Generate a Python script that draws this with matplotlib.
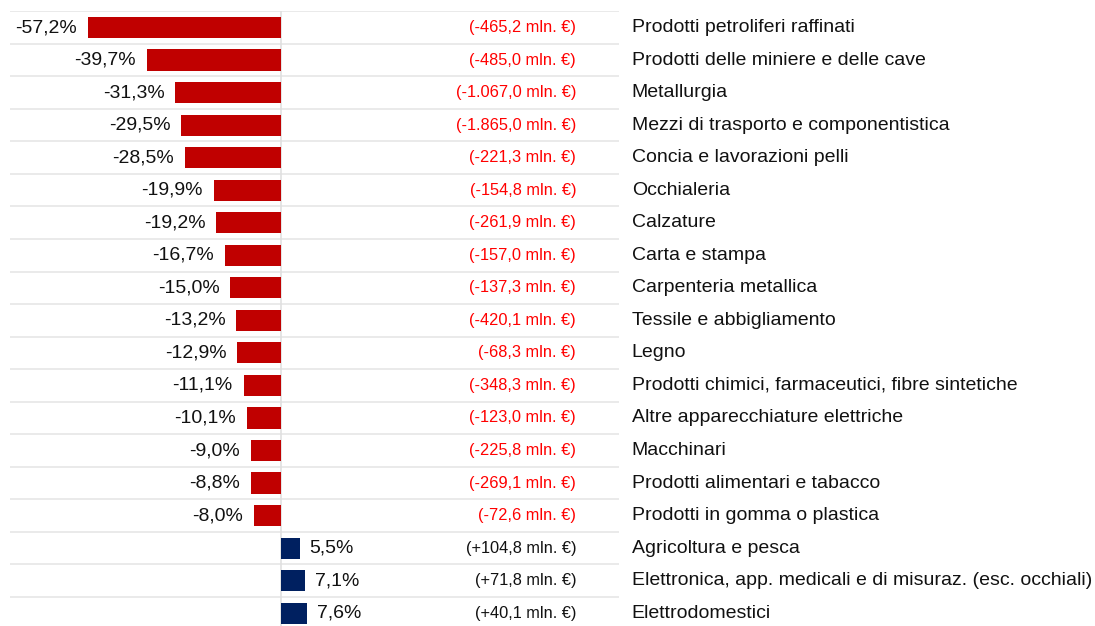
import matplotlib
matplotlib.use('Agg')
import matplotlib.pyplot as plt

# dati: variazione % export e variazione in mln di euro per settore
settori = ['Prodotti petroliferi raffinati', 'Prodotti delle miniere e delle cave',
           'Metallurgia', 'Mezzi di trasporto e componentistica',
           'Concia e lavorazioni pelli', 'Occhialeria', 'Calzature',
           'Carta e stampa', 'Carpenteria metallica', 'Tessile e abbigliamento',
           'Legno', 'Prodotti chimici, farmaceutici, fibre sintetiche',
           'Altre apparecchiature elettriche', 'Macchinari',
           'Prodotti alimentari e tabacco', 'Prodotti in gomma o plastica',
           'Agricoltura e pesca',
           'Elettronica, app. medicali e di misuraz. (esc. occhiali)',
           'Elettrodomestici']
variazioni = [-57.2, -39.7, -31.3, -29.5, -28.5, -19.9, -19.2, -16.7, -15.0,
              -13.2, -12.9, -11.1, -10.1, -9.0, -8.8, -8.0, 5.5, 7.1, 7.6]
mln_euro = ['-465,2', '-485,0', '-1.067,0', '-1.865,0', '-221,3', '-154,8',
            '-261,9', '-157,0', '-137,3', '-420,1', '-68,3', '-348,3', '-123,0',
            '-225,8', '-269,1', '-72,6', '+104,8', '+71,8', '+40,1']

plt.rcParams['font.family'] = ['Liberation Sans', 'DejaVu Sans']

W, H = 1095, 626
fig = plt.figure(figsize=(W / 100, H / 100), dpi=100)
# assi da x=10 a x=619 px, righe da y=11 a y=630 px
ax = fig.add_axes([10 / W, (H - 629.5) / H, 609 / W, 618.25 / H])
ax.set_xlim(-80.2, 100)
ax.set_ylim(len(settori) - 0.5, -0.5)
ax.axis('off')

# righe orizzontali e asse dello zero
for k in range(len(settori) + 1):
    ax.axhline(k - 0.5, color='#E6E6E6', lw=1.2, zorder=0)
ax.axvline(0, color='#E0E0E0', lw=1.2, zorder=0)

colori = ['#C00000' if v < 0 else '#002060' for v in variazioni]
ax.barh(range(len(settori)), variazioni, height=0.65, color=colori, zorder=2)

for i, (v, m, s) in enumerate(zip(variazioni, mln_euro, settori)):
    etichetta = f'{v:.1f}%'.replace('.', ',')
    if v < 0:
        ax.text(v - 3.2, i, etichetta, ha='right', va='center', fontsize=14,
                color='#111111')
        col = '#FF0000'
    else:
        ax.text(v + 2.9, i, etichetta, ha='left', va='center', fontsize=14,
                color='#111111')
        col = '#111111'
    ax.text(87.3, i, f'({m} mln. €)', ha='right', va='center', fontsize=11.8,
            color=col)
    ax.text(103.8, i, s, ha='left', va='center', fontsize=14,
            color='#111111', clip_on=False)

fig.savefig('out.png', dpi=100)
